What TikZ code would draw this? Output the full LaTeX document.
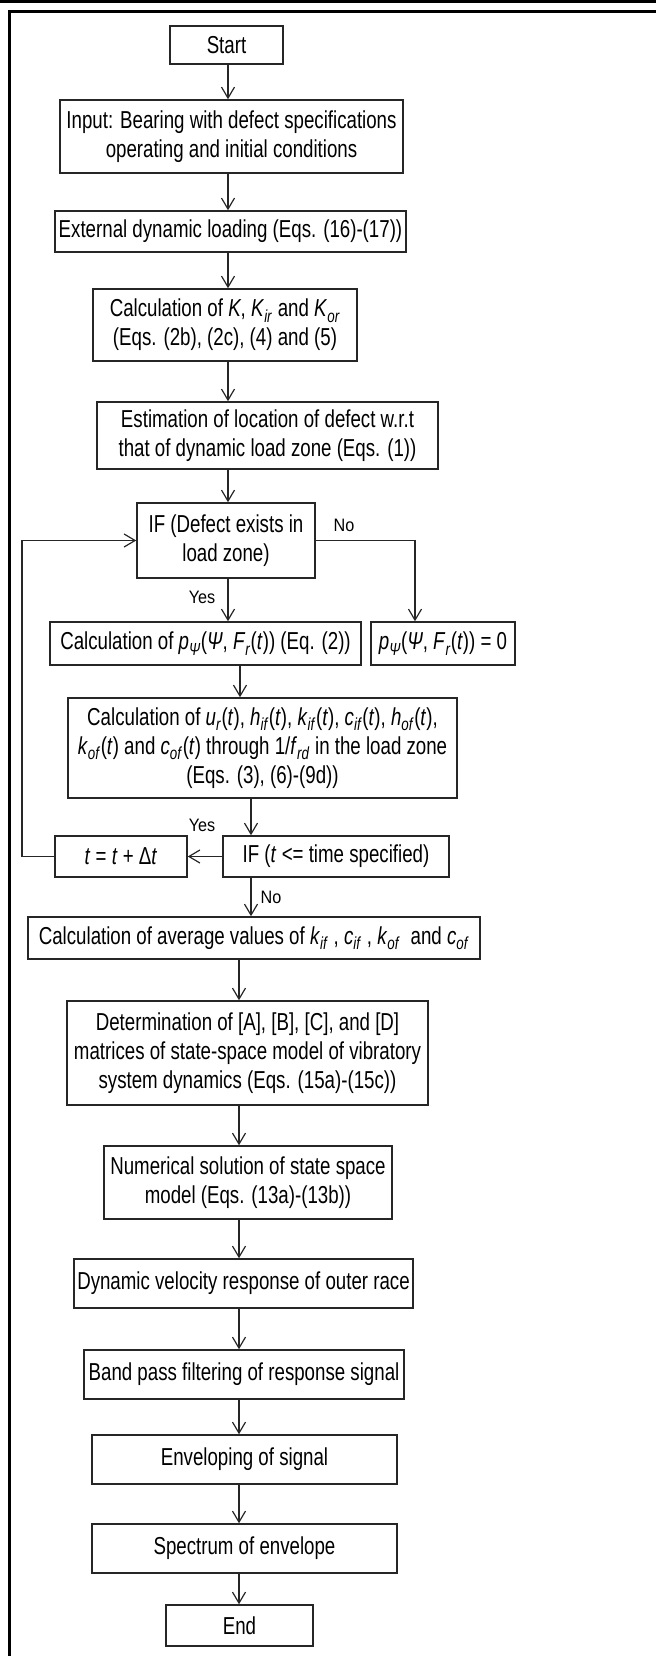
\documentclass[tikz,border=0pt]{standalone}
\usepackage{fontspec}
\setmainfont{Liberation Sans}[FakeStretch=0.763]
\newfontfamily\lblfont{Liberation Sans}[FakeStretch=0.9]
\usetikzlibrary{arrows.meta}
\newcommand{\vi}[1]{\textit{#1}}
\newcommand{\sbi}[1]{\raisebox{-5.5pt}{\fontsize{17.5}{18}\selectfont\itshape #1\/}\kern0.5pt\relax}
\begin{document}
\begin{tikzpicture}[x=1pt,y=-1pt,
  font=\fontsize{24.5}{29}\selectfont,
  box/.style={draw=black!85, line width=1.5pt, align=center, inner sep=0pt},
  arr/.style={draw=black!85, line width=1.2pt, -{Straight Barb[length=11pt,width=13pt,line width=1.2pt]}},
  lbl/.style={font=\lblfont\fontsize{18}{20}\selectfont, inner sep=0pt}]
\useasboundingbox (0,0) rectangle (656,1656);
% frame
\fill[black] (0,0) rectangle (656,3);
\fill[black] (8,10) rectangle (656,13);
\fill[black] (8,10) rectangle (11,1656);
% coordinates for connector x positions
\coordinate (A) at (228,0);
\coordinate (B) at (240,0);
\coordinate (C) at (251,0);
\coordinate (D) at (239,0);
\coordinate (N) at (415,0);
\coordinate (L) at (22,0);
% boxes
\node[box, minimum width=113pt, minimum height=38pt] (start) at (226.5,45) {Start};
\node[box, minimum width=343pt, minimum height=73pt] (input) at (231.5,136.5) {Input: Bearing with defect specifications\\operating and initial conditions};
\node[box, minimum width=351pt, minimum height=41pt] (ext) at (230.5,231.5) {External dynamic loading (Eqs. (16)-(17))};
\node[box, minimum width=264pt, minimum height=72pt] (calcK) at (225,325) {Calculation of \vi{K}, \vi{K}\sbi{ir} and \vi{K}\sbi{or}\\(Eqs. (2b), (2c), (4) and (5)};
\node[box, minimum width=341pt, minimum height=67pt] (est) at (267.5,435.5) {Estimation of location of defect w.r.t\\that of dynamic load zone (Eqs. (1))};
\node[box, minimum width=178pt, minimum height=75pt] (if1) at (226,540.5) {IF (Defect exists in\\load zone)};
\node[box, minimum width=311pt, minimum height=43pt] (calcp) at (205.5,643.5) {Calculation of \vi{p}\sbi{Ψ}(\vi{Ψ}, \vi{F}\sbi{r}(\vi{t})) (Eq. (2))};
\node[box, minimum width=144pt, minimum height=43pt] (pzero) at (443,643.5) {\vi{p}\sbi{Ψ}(\vi{Ψ}, \vi{F}\sbi{r}(\vi{t})) = 0};
\node[box, minimum width=389pt, minimum height=100pt] (calcu) at (262.5,748) {Calculation of \vi{u}\sbi{r}(\vi{t}), \vi{h}\sbi{if}(\vi{t}), \vi{k}\sbi{if}(\vi{t}), \vi{c}\sbi{if}(\vi{t}), \vi{h}\sbi{of}(\vi{t}),\\\vi{k}\sbi{of}(\vi{t}) and \vi{c}\sbi{of}(\vi{t}) through 1/\vi{f}\sbi{rd} in the load zone\\(Eqs. (3), (6)-(9d))};
\node[box, minimum width=132pt, minimum height=41pt] (tbox) at (121,856.5) {\vi{t} = \vi{t} + Δ\vi{t}};
\node[box, minimum width=226pt, minimum height=41pt] (if2) at (336,856.5) {IF (\vi{t} <= time specified)};
\node[box, minimum width=452pt, minimum height=42pt] (avg) at (254,938) {Calculation of average values of \vi{k}\sbi{if} , \vi{c}\sbi{if} , \vi{k}\sbi{of} \ and \vi{c}\sbi{of}};
\node[box, minimum width=361pt, minimum height=104pt] (det) at (247.5,1053) {Determination of [A], [B], [C], and [D]\\matrices of state-space model of vibratory\\system dynamics (Eqs. (15a)-(15c))};
\node[box, minimum width=288pt, minimum height=73pt] (num) at (248,1182.5) {Numerical solution of state space\\model (Eqs. (13a)-(13b))};
\node[box, minimum width=339pt, minimum height=49pt] (dyn) at (243.5,1283.5) {Dynamic velocity response of outer race};
\node[box, minimum width=320pt, minimum height=49pt] (band) at (244,1374.5) {Band pass filtering of response signal};
\node[box, minimum width=305pt, minimum height=49pt] (env) at (244.5,1459.5) {Enveloping of signal};
\node[box, minimum width=305pt, minimum height=49pt] (spec) at (244.5,1548.5) {Spectrum of envelope};
\node[box, minimum width=147pt, minimum height=41pt] (end) at (239.5,1625.5) {End};
% labels
\node[lbl] (no1) at (344,525) {No};
\node[lbl] (yes1) at (202,597) {Yes};
\node[lbl] (yes2) at (202,825) {Yes};
\node[lbl] (no2) at (271,897) {No};
% connectors
\draw[arr] (start.south -| A) -- (input.north -| A);
\draw[arr] (input.south -| A) -- (ext.north -| A);
\draw[arr] (ext.south -| A) -- (calcK.north -| A);
\draw[arr] (calcK.south -| A) -- (est.north -| A);
\draw[arr] (est.south -| A) -- (if1.north -| A);
\draw[arr] (if1.south -| A) -- (calcp.north -| A);
\draw[arr] (if1.east) -- (if1.east -| N) -- (pzero.north -| N);
\draw[arr] (calcp.south -| B) -- (calcu.north -| B);
\draw[arr] (calcu.south -| C) -- (if2.north -| C);
\draw[arr] (if2.west) -- (tbox.east);
\draw[arr] (tbox.west) -- (tbox.west -| L) -- (if1.west -| L) -- (if1.west);
\draw[arr] (if2.south -| C) -- (avg.north -| C);
\draw[arr] (avg.south -| D) -- (det.north -| D);
\draw[arr] (det.south -| D) -- (num.north -| D);
\draw[arr] (num.south -| D) -- (dyn.north -| D);
\draw[arr] (dyn.south -| D) -- (band.north -| D);
\draw[arr] (band.south -| D) -- (env.north -| D);
\draw[arr] (env.south -| D) -- (spec.north -| D);
\draw[arr] (spec.south -| D) -- (end.north -| D);
\end{tikzpicture}
\end{document}
